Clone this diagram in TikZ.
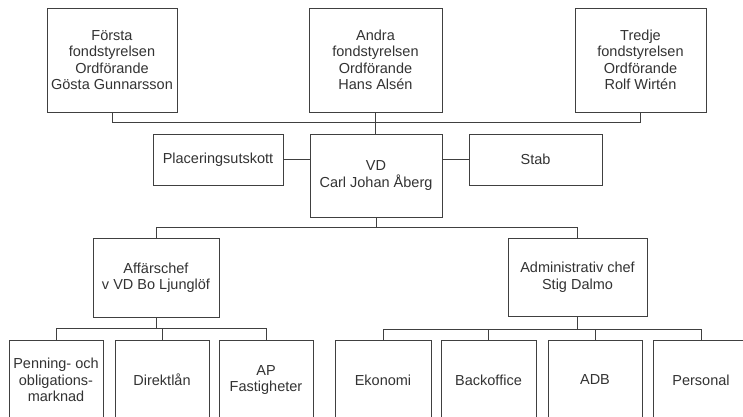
\documentclass[tikz,border=0pt]{standalone}
\usepackage{fontspec}
\setmainfont{Liberation Sans}
\begin{document}
\begin{tikzpicture}[x=1pt,y=-1pt,
  box/.style={draw=black!75, line width=0.7pt, inner sep=0pt, align=center,
    text=black!80, font=\fontsize{14.5}{16.5}\selectfont,
    execute at begin node={\baselineskip=16.5pt\lineskiplimit=-5pt}},
  conn/.style={draw=black!75, line width=0.7pt}]
\useasboundingbox (0,0) rectangle (743,416);
\clip (0,0) rectangle (743,416);
\fill[white] (0,0) rectangle (743,416);
% top row
\node[box, minimum width=130pt, minimum height=104pt] (forsta) at (112,60) {Första\\fondstyrelsen\\Ordförande\\Gösta Gunnarsson};
\node[box, minimum width=133pt, minimum height=104pt] (andra) at (375.5,60) {Andra\\fondstyrelsen\\Ordförande\\Hans Alsén};
\node[box, minimum width=131pt, minimum height=104pt] (tredje) at (640.5,60) {Tredje\\fondstyrelsen\\Ordförande\\Rolf Wirtén};
% middle row
\node[box, minimum width=130pt, minimum height=51pt] (plac) at (218,159.5) {Placeringsutskott};
\node[box, minimum width=132pt, minimum height=83pt] (vd) at (376,175.5) {VD\\Carl Johan Åberg};
\node[box, minimum width=133pt, minimum height=51pt] (stab) at (535.5,159.5) {Stab};
% chefs
\node[box, minimum width=126pt, minimum height=79pt] (aff) at (156,277.5) {Affärschef\\v VD Bo Ljunglöf};
\node[box, minimum width=139pt, minimum height=78pt] (adm) at (577.5,277) {Administrativ chef\\Stig Dalmo};
% bottom row
\node[box, minimum width=94pt, minimum height=80pt] (pen) at (56,380) {Penning- och\\obligations-\\marknad};
\node[box, minimum width=94pt, minimum height=80pt] (dir) at (162,380) {Direktlån};
\node[box, minimum width=94pt, minimum height=80pt] (ap) at (266,380) {AP\\Fastigheter};
\node[box, minimum width=96pt, minimum height=80pt] (eko) at (383,380) {Ekonomi};
\node[box, minimum width=95pt, minimum height=80pt] (back) at (488.5,380) {Backoffice};
\node[box, minimum width=94pt, minimum height=80pt] (adb) at (595,380) {ADB};
\node[box, minimum width=96pt, minimum height=80pt] (pers) at (701,380) {Personal};
% connectors top
\draw[conn] (forsta.south) -- ++(0,10) coordinate (bus1) -| (tredje.south);
\draw[conn] (andra.south) -- (andra.south |- vd.north);
\draw[conn] (plac.east) -- (plac.east -| vd.west);
\draw[conn] (vd.east |- stab.west) -- (stab.west);
% VD to chefs
\draw[conn] (vd.south) -- ++(0,10) coordinate (bus2);
\draw[conn] (aff.north) |- (bus2) -| (adm.north);
% left group
\draw[conn] (aff.south) -- ++(0,11) coordinate (bus3);
\draw[conn] (pen.north) |- (bus3) -| (ap.north);
\draw[conn] (dir.north) -- (dir.north |- bus3);
% right group
\draw[conn] (adm.south) -- ++(0,13) coordinate (bus4);
\draw[conn] (eko.north) |- (bus4) -| (pers.north);
\draw[conn] (back.north) -- (back.north |- bus4);
\draw[conn] (adb.north) -- (adb.north |- bus4);
\end{tikzpicture}
\end{document}
